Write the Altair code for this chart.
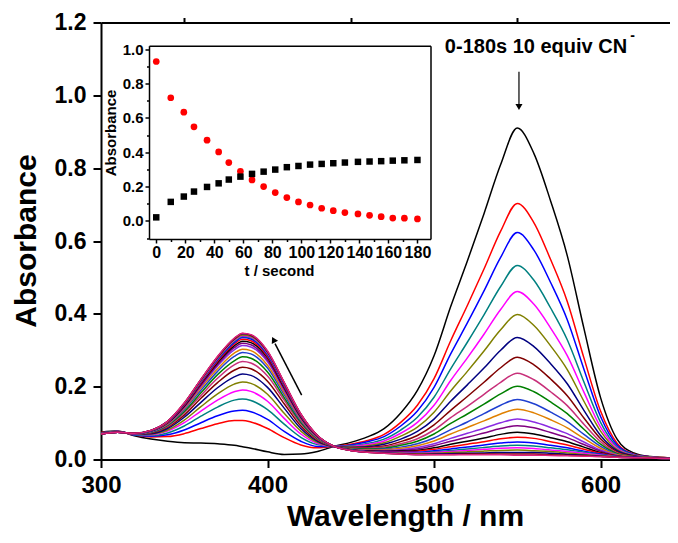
import altair as alt
import pandas as pd

# ---------------- data ----------------
wavelengths = [300, 310, 320, 330, 340, 350, 360, 370, 380, 385, 390, 400, 410, 420, 430,
               440, 450, 460, 470, 480, 490, 500, 510, 520, 530, 540, 550, 560, 570, 580,
               590, 600, 610, 620, 630, 640, 650]

abs_t000 = [0.075, 0.078, 0.065, 0.056, 0.050, 0.046, 0.045, 0.043, 0.039, 0.035, 0.031, 0.021, 0.014, 0.015, 0.022, 0.036, 0.047, 0.062, 0.085, 0.128, 0.190, 0.285, 0.420, 0.545, 0.675, 0.810, 0.910, 0.840, 0.710, 0.560, 0.360, 0.170, 0.055, 0.018, 0.008, 0.005, 0.004]
abs_t010 = [0.074, 0.077, 0.067, 0.062, 0.063, 0.071, 0.085, 0.098, 0.107, 0.107, 0.103, 0.085, 0.060, 0.040, 0.032, 0.036, 0.042, 0.052, 0.069, 0.102, 0.149, 0.222, 0.326, 0.423, 0.523, 0.627, 0.703, 0.650, 0.549, 0.434, 0.279, 0.133, 0.044, 0.015, 0.007, 0.005, 0.004]
abs_t019 = [0.073, 0.077, 0.067, 0.064, 0.068, 0.081, 0.101, 0.120, 0.133, 0.135, 0.131, 0.110, 0.077, 0.050, 0.036, 0.036, 0.040, 0.049, 0.063, 0.092, 0.133, 0.198, 0.290, 0.375, 0.463, 0.555, 0.623, 0.575, 0.486, 0.384, 0.248, 0.118, 0.039, 0.014, 0.007, 0.004, 0.004]
abs_t026 = [0.073, 0.077, 0.068, 0.066, 0.073, 0.092, 0.119, 0.144, 0.163, 0.166, 0.162, 0.137, 0.097, 0.061, 0.041, 0.036, 0.038, 0.044, 0.056, 0.081, 0.116, 0.171, 0.249, 0.322, 0.397, 0.475, 0.533, 0.492, 0.416, 0.329, 0.213, 0.102, 0.034, 0.013, 0.006, 0.004, 0.004]
abs_t035 = [0.072, 0.077, 0.069, 0.068, 0.078, 0.101, 0.133, 0.163, 0.186, 0.191, 0.187, 0.160, 0.113, 0.070, 0.044, 0.036, 0.036, 0.041, 0.051, 0.072, 0.102, 0.149, 0.217, 0.279, 0.344, 0.412, 0.461, 0.426, 0.361, 0.285, 0.185, 0.089, 0.031, 0.012, 0.006, 0.004, 0.004]
abs_t043 = [0.072, 0.076, 0.069, 0.070, 0.081, 0.108, 0.145, 0.180, 0.207, 0.213, 0.209, 0.179, 0.127, 0.078, 0.047, 0.036, 0.034, 0.038, 0.046, 0.064, 0.089, 0.130, 0.188, 0.242, 0.298, 0.356, 0.398, 0.368, 0.312, 0.247, 0.160, 0.078, 0.027, 0.011, 0.006, 0.004, 0.003]
abs_t050 = [0.072, 0.076, 0.070, 0.071, 0.085, 0.116, 0.157, 0.197, 0.227, 0.235, 0.231, 0.198, 0.141, 0.085, 0.050, 0.036, 0.033, 0.035, 0.042, 0.056, 0.077, 0.111, 0.160, 0.205, 0.251, 0.300, 0.335, 0.310, 0.263, 0.208, 0.135, 0.066, 0.024, 0.010, 0.005, 0.004, 0.003]
abs_t058 = [0.071, 0.076, 0.070, 0.073, 0.089, 0.122, 0.168, 0.211, 0.245, 0.253, 0.249, 0.215, 0.153, 0.092, 0.053, 0.036, 0.032, 0.033, 0.037, 0.049, 0.066, 0.095, 0.135, 0.173, 0.212, 0.252, 0.281, 0.260, 0.221, 0.175, 0.114, 0.057, 0.021, 0.009, 0.005, 0.004, 0.003]
abs_t066 = [0.071, 0.076, 0.070, 0.074, 0.091, 0.128, 0.176, 0.223, 0.260, 0.269, 0.265, 0.229, 0.163, 0.098, 0.055, 0.036, 0.031, 0.031, 0.034, 0.043, 0.057, 0.081, 0.115, 0.146, 0.179, 0.212, 0.237, 0.219, 0.186, 0.148, 0.097, 0.049, 0.018, 0.008, 0.005, 0.004, 0.003]
abs_t074 = [0.071, 0.076, 0.071, 0.075, 0.094, 0.132, 0.183, 0.233, 0.271, 0.282, 0.278, 0.240, 0.170, 0.102, 0.057, 0.036, 0.030, 0.029, 0.031, 0.039, 0.050, 0.070, 0.099, 0.125, 0.152, 0.180, 0.201, 0.186, 0.158, 0.126, 0.083, 0.042, 0.016, 0.008, 0.005, 0.003, 0.003]
abs_t082 = [0.071, 0.076, 0.071, 0.076, 0.096, 0.137, 0.190, 0.242, 0.283, 0.294, 0.290, 0.251, 0.178, 0.106, 0.059, 0.036, 0.029, 0.027, 0.029, 0.034, 0.043, 0.059, 0.082, 0.103, 0.126, 0.149, 0.165, 0.153, 0.130, 0.104, 0.069, 0.036, 0.014, 0.007, 0.005, 0.003, 0.003]
abs_t090 = [0.071, 0.075, 0.071, 0.077, 0.097, 0.140, 0.196, 0.249, 0.292, 0.303, 0.299, 0.259, 0.184, 0.110, 0.060, 0.036, 0.028, 0.026, 0.027, 0.031, 0.038, 0.051, 0.070, 0.088, 0.106, 0.125, 0.138, 0.128, 0.109, 0.087, 0.058, 0.031, 0.013, 0.007, 0.005, 0.003, 0.003]
abs_t098 = [0.071, 0.075, 0.071, 0.077, 0.099, 0.143, 0.201, 0.257, 0.301, 0.313, 0.309, 0.268, 0.190, 0.113, 0.061, 0.036, 0.027, 0.025, 0.025, 0.027, 0.033, 0.043, 0.058, 0.072, 0.086, 0.101, 0.111, 0.103, 0.088, 0.071, 0.048, 0.026, 0.011, 0.006, 0.004, 0.003, 0.003]
abs_t106 = [0.070, 0.075, 0.071, 0.078, 0.100, 0.145, 0.204, 0.261, 0.307, 0.319, 0.315, 0.273, 0.194, 0.115, 0.062, 0.036, 0.027, 0.024, 0.023, 0.025, 0.029, 0.038, 0.050, 0.061, 0.073, 0.085, 0.093, 0.087, 0.074, 0.060, 0.041, 0.023, 0.010, 0.006, 0.004, 0.003, 0.003]
abs_t114 = [0.070, 0.075, 0.072, 0.078, 0.101, 0.147, 0.208, 0.266, 0.312, 0.325, 0.321, 0.279, 0.198, 0.117, 0.063, 0.036, 0.027, 0.023, 0.022, 0.023, 0.025, 0.032, 0.042, 0.050, 0.059, 0.069, 0.075, 0.070, 0.060, 0.049, 0.034, 0.019, 0.009, 0.006, 0.004, 0.003, 0.003]
abs_t122 = [0.070, 0.075, 0.072, 0.079, 0.102, 0.149, 0.210, 0.270, 0.317, 0.330, 0.326, 0.283, 0.201, 0.119, 0.064, 0.036, 0.026, 0.022, 0.021, 0.021, 0.023, 0.028, 0.035, 0.042, 0.049, 0.057, 0.061, 0.058, 0.049, 0.040, 0.028, 0.017, 0.009, 0.006, 0.004, 0.003, 0.003]
abs_t130 = [0.070, 0.075, 0.072, 0.079, 0.103, 0.151, 0.213, 0.273, 0.321, 0.335, 0.331, 0.287, 0.204, 0.121, 0.064, 0.036, 0.026, 0.022, 0.020, 0.020, 0.020, 0.024, 0.029, 0.034, 0.040, 0.045, 0.048, 0.045, 0.039, 0.032, 0.023, 0.015, 0.008, 0.006, 0.004, 0.003, 0.003]
abs_t139 = [0.070, 0.075, 0.072, 0.079, 0.103, 0.152, 0.215, 0.276, 0.324, 0.338, 0.334, 0.290, 0.206, 0.122, 0.065, 0.036, 0.026, 0.021, 0.019, 0.018, 0.018, 0.021, 0.025, 0.029, 0.033, 0.037, 0.039, 0.037, 0.032, 0.027, 0.020, 0.013, 0.008, 0.005, 0.004, 0.003, 0.003]
abs_t147 = [0.070, 0.075, 0.072, 0.080, 0.104, 0.153, 0.216, 0.278, 0.327, 0.340, 0.336, 0.292, 0.208, 0.123, 0.065, 0.036, 0.025, 0.021, 0.018, 0.017, 0.017, 0.019, 0.022, 0.025, 0.028, 0.031, 0.032, 0.030, 0.026, 0.022, 0.017, 0.012, 0.007, 0.005, 0.004, 0.003, 0.003]
abs_t155 = [0.070, 0.075, 0.072, 0.080, 0.104, 0.153, 0.217, 0.279, 0.329, 0.342, 0.338, 0.294, 0.209, 0.123, 0.065, 0.036, 0.025, 0.021, 0.018, 0.017, 0.016, 0.017, 0.019, 0.021, 0.023, 0.025, 0.026, 0.024, 0.022, 0.018, 0.014, 0.010, 0.007, 0.005, 0.004, 0.003, 0.003]
abs_t163 = [0.070, 0.075, 0.072, 0.080, 0.105, 0.154, 0.219, 0.281, 0.331, 0.345, 0.341, 0.296, 0.210, 0.124, 0.066, 0.036, 0.025, 0.020, 0.018, 0.016, 0.014, 0.015, 0.016, 0.017, 0.018, 0.019, 0.019, 0.019, 0.017, 0.014, 0.012, 0.009, 0.006, 0.005, 0.004, 0.003, 0.003]
abs_t171 = [0.070, 0.075, 0.072, 0.080, 0.105, 0.155, 0.220, 0.282, 0.332, 0.346, 0.342, 0.297, 0.211, 0.125, 0.066, 0.036, 0.025, 0.020, 0.017, 0.015, 0.014, 0.014, 0.014, 0.015, 0.015, 0.015, 0.015, 0.015, 0.013, 0.012, 0.010, 0.008, 0.006, 0.005, 0.004, 0.003, 0.003]
abs_t180 = [0.070, 0.075, 0.072, 0.080, 0.105, 0.155, 0.220, 0.283, 0.333, 0.347, 0.343, 0.298, 0.212, 0.125, 0.066, 0.036, 0.025, 0.020, 0.017, 0.015, 0.013, 0.013, 0.013, 0.013, 0.013, 0.013, 0.012, 0.012, 0.011, 0.010, 0.009, 0.008, 0.006, 0.005, 0.004, 0.003, 0.003]

spectra = [abs_t000, abs_t010, abs_t019, abs_t026, abs_t035, abs_t043, abs_t050, abs_t058,
           abs_t066, abs_t074, abs_t082, abs_t090, abs_t098, abs_t106, abs_t114, abs_t122,
           abs_t130, abs_t139, abs_t147, abs_t155, abs_t163, abs_t171, abs_t180]

# inset kinetics
time_s = [0, 10, 19, 26, 35, 43, 50, 58, 66, 74, 82, 90, 98, 106, 114, 122, 130, 139, 147, 155, 163, 171, 180]
abs_550 = [0.928, 0.717, 0.633, 0.548, 0.470, 0.402, 0.340, 0.289, 0.239, 0.200, 0.165, 0.136, 0.111,
           0.093, 0.074, 0.060, 0.049, 0.041, 0.033, 0.025, 0.017, 0.016, 0.012]
abs_385 = [0.021, 0.111, 0.142, 0.171, 0.198, 0.219, 0.241, 0.258, 0.274, 0.287, 0.299, 0.313, 0.320,
           0.328, 0.332, 0.336, 0.340, 0.344, 0.346, 0.348, 0.351, 0.353, 0.355]

curve_colors = ["#000000", "#FF0000", "#0000FF", "#008080", "#FF00FF", "#808000", "#000080",
                "#800000", "#C8307A", "#008000", "#2040D0", "#E08000", "#8A2BE2", "#800080",
                "#000000", "#FF0000", "#0000FF", "#008080", "#FF00FF", "#808000", "#000080",
                "#800000", "#E0207F"]

# ---------------- tables ----------------
rows = []
for t, ys in zip(time_s, spectra):
    for w, a in zip(wavelengths, ys):
        rows.append({"t": t, "wl": w, "A": a})
spec_df = pd.DataFrame(rows)
kin_df = pd.DataFrame({"t": time_s, "a550": abs_550, "a385": abs_385})

FONT = "Liberation Sans"
W, H = 569, 437

xs_main = alt.Scale(domain=[300, 641.7], nice=False, zero=False)
ys_main = alt.Scale(domain=[0, 1.2], nice=False, zero=False)

common_axis = dict(domainColor="black", tickColor="black", labelColor="black", titleColor="black",
                   labelFont=FONT, titleFont=FONT, labelFontWeight="bold", titleFontWeight="bold",
                   grid=False, labelFlush=False, labelOverlap=False)

spec_lines = alt.Chart(spec_df).mark_line(strokeWidth=1.5, interpolate="monotone", clip=True).encode(
    x=alt.X("wl:Q", scale=xs_main, axis=alt.Axis(
        values=[300, 400, 500, 600], format="d", tickSize=8, tickWidth=2, domainWidth=2,
        labelFontSize=24, labelPadding=6, title="Wavelength / nm", titleFontSize=30,
        titleX=304, titleY=66, titleBaseline="alphabetic", titleAnchor="middle", **common_axis)),
    y=alt.Y("A:Q", scale=ys_main, axis=alt.Axis(
        values=[0, 0.2, 0.4, 0.6, 0.8, 1.0, 1.2], format=".1f", tickSize=8, tickWidth=2, domainWidth=2,
        labelFontSize=23, labelPadding=7, title="Absorbance", titleFontSize=30,
        titleX=-66, titleY=218, titleAngle=270, titleBaseline="alphabetic", titleAlign="center",
        **common_axis)),
    color=alt.Color("t:N", scale=alt.Scale(domain=time_s, range=curve_colors), legend=None),
    order=alt.Order("t:Q"),
)

# annotation: vertical arrow at 550 nm, label, diagonal arrow near 385 nm
ann_v = pd.DataFrame({"wl": [551], "y1": [1.065], "y2": [0.975]})
v_rule = alt.Chart(ann_v).mark_rule(color="black", strokeWidth=1.2).encode(
    x=alt.X("wl:Q", scale=xs_main, axis=alt.Axis(
        values=[350, 450, 550, 650], tickSize=5, tickWidth=2, labels=False, domain=False,
        title=None, grid=False, tickColor="black")),
    y=alt.Y("y1:Q", scale=ys_main, axis=alt.Axis(
        values=[0.1, 0.3, 0.5, 0.7, 0.9, 1.1], tickSize=5, tickWidth=2, labels=False, domain=False,
        title=None, grid=False, tickColor="black")),
    y2="y2:Q",
)
v_head = alt.Chart(pd.DataFrame({"wl": [551], "y": [0.968]})).mark_point(
    shape="triangle-down", filled=True, color="black", size=50, opacity=1).encode(
    x=alt.X("wl:Q", scale=xs_main, axis=None), y=alt.Y("y:Q", scale=ys_main, axis=None))

label_df = pd.DataFrame({"wl": [506.5], "y": [1.116], "txt": ["0-180s 10 equiv CN"]})
label = alt.Chart(label_df).mark_text(
    align="left", baseline="alphabetic", font=FONT, fontWeight="bold", fontSize=20, color="black").encode(
    x=alt.X("wl:Q", scale=xs_main, axis=alt.Axis(orient="top", ticks=False, labels=False, title=None,
                                                 domainWidth=2, domainColor="black", grid=False)),
    y=alt.Y("y:Q", scale=ys_main, axis=None),
    text="txt:N",
)
sup = alt.Chart(pd.DataFrame({"wl": [617.8], "y": [1.152], "txt": ["-"]})).mark_text(
    align="left", baseline="alphabetic", font=FONT, fontWeight="bold", fontSize=14, color="black").encode(
    x=alt.X("wl:Q", scale=xs_main, axis=None), y=alt.Y("y:Q", scale=ys_main, axis=None), text="txt:N")

ann_d = pd.DataFrame({"wl": [420.5], "y1": [0.177], "wl2": [404.5], "y2": [0.318]})
d_rule = alt.Chart(ann_d).mark_rule(color="black", strokeWidth=1.5).encode(
    x=alt.X("wl:Q", scale=xs_main, axis=None), y=alt.Y("y1:Q", scale=ys_main, axis=None),
    x2="wl2:Q", y2="y2:Q")
d_head = alt.Chart(pd.DataFrame({"wl": [403.6], "y": [0.329]})).mark_point(
    shape="triangle-up", filled=True, color="black", size=50, opacity=1, angle=333).encode(
    x=alt.X("wl:Q", scale=xs_main, axis=None), y=alt.Y("y:Q", scale=ys_main, axis=None))

main = alt.layer(spec_lines, v_rule, v_head, label, sup, d_rule, d_head).resolve_axis(
    x="independent", y="independent")

# ---------------- inset ----------------
IX0, IX1, IY0, IY1 = 48, 329.5, 216.5, 23.2
xs_in = alt.Scale(domain=[-5, 189], range=[IX0, IX1], nice=False, zero=False)
ys_in = alt.Scale(domain=[-0.105, 1.02], range=[IY0, IY1], nice=False, zero=False)

red_pts = alt.Chart(kin_df).mark_circle(size=45, color="#FF0000", opacity=1).encode(
    x=alt.X("t:Q", scale=xs_in, axis=alt.Axis(
        orient="bottom", offset=-(H - IY0), values=list(range(0, 181, 20)), format="d",
        tickSize=4, tickWidth=1.5, domainWidth=1.5, labelFontSize=16, labelPadding=1,
        title="t / second", titleFontSize=15, titleX=178, titleY=31, titleBaseline="middle",
        titleAnchor="middle", **common_axis)),
    y=alt.Y("a550:Q", scale=ys_in, axis=alt.Axis(
        orient="left", offset=-IX0, values=[0, 0.2, 0.4, 0.6, 0.8, 1.0], format=".1f",
        tickSize=4, tickWidth=1.5, domainWidth=1.5, labelFontSize=15, labelPadding=2,
        title="Absorbance", titleFontSize=15, titleX=-39, titleY=110, titleAngle=270,
        titleBaseline="middle", titleAlign="center", **common_axis)),
)
sq_pts = alt.Chart(kin_df).mark_square(size=42, color="#000000", opacity=1).encode(
    x=alt.X("t:Q", scale=xs_in, axis=alt.Axis(
        orient="bottom", offset=-(H - IY0), values=list(range(10, 180, 20)), tickSize=2.5,
        tickWidth=1.5, labels=False, domain=False, title=None, grid=False, tickColor="black")),
    y=alt.Y("a385:Q", scale=ys_in, axis=alt.Axis(
        orient="left", offset=-IX0, values=[-0.1, 0.1, 0.3, 0.5, 0.7, 0.9], tickSize=2.5,
        tickWidth=1.5, labels=False, domain=False, title=None, grid=False, tickColor="black")),
)
frame = alt.Chart(kin_df).mark_circle(opacity=0).encode(
    x=alt.X("t:Q", scale=xs_in, axis=alt.Axis(
        orient="top", offset=-IY1, ticks=False, labels=False, title=None, grid=False,
        domainWidth=1.5, domainColor="black")),
    y=alt.Y("a550:Q", scale=ys_in, axis=alt.Axis(
        orient="right", offset=-(W - IX1), ticks=False, labels=False, title=None, grid=False,
        domainWidth=1.5, domainColor="black")),
)
inset = alt.layer(frame, red_pts, sq_pts).resolve_axis(x="independent", y="independent")

chart = alt.layer(main, inset).resolve_scale(x="independent", y="independent").properties(
    width=W, height=H,
    autosize=alt.AutoSizeParams(type="none"),
    padding={"left": 93, "top": 14.5, "right": 0, "bottom": 75.5},
).configure_view(stroke=None).configure(background="white")

chart.save("out.html", embed_options={"renderer": "svg", "actions": False})
